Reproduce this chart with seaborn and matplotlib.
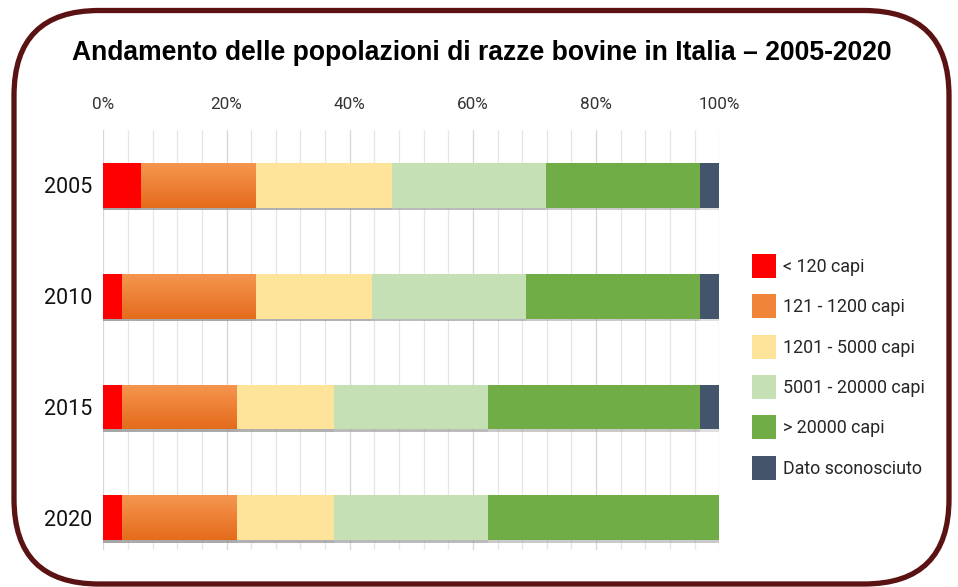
import numpy as np
import pandas as pd
import matplotlib
matplotlib.use("Agg")
import matplotlib.pyplot as plt
import seaborn as sns
from matplotlib.patches import Patch, FancyBboxPatch
from matplotlib import patheffects as pe

# ---- data (percent shares per year) ----
years = ["2005", "2010", "2015", "2020"]
categories = ["< 120 capi", "121 - 1200 capi", "1201 - 5000 capi",
              "5001 - 20000 capi", "> 20000 capi", "Dato sconosciuto"]
share_lt120 = [6.1, 3.0, 3.0, 3.0]
share_121_1200 = [18.7, 21.8, 18.7, 18.7]
share_1201_5000 = [22.0, 18.9, 15.7, 15.7]
share_5001_20000 = [25.0, 25.0, 25.0, 25.0]
share_gt20000 = [25.1, 28.2, 34.5, 37.6]
share_unknown = [3.1, 3.1, 3.1, 0.0]
colors = ["#ff0000", "#f0853a", "#fde49a", "#c5e0b4", "#70ad47", "#44546a"]
xticks = [0, 20, 40, 60, 80, 100]
title = "Andamento delle popolazioni di razze bovine in Italia – 2005-2020"

series = [share_lt120, share_121_1200, share_1201_5000,
          share_5001_20000, share_gt20000, share_unknown]
cum = np.cumsum(np.array(series), axis=0)
df = pd.DataFrame({"year": years})
for i, c in enumerate(categories):
    df[c] = cum[i]

sns.set_theme(style="white")
plt.rcParams["font.family"] = ["Roboto", "DejaVu Sans"]

W, H = 958, 587
fig = plt.figure(figsize=(W / 100, H / 100), dpi=100)
fig.patch.set_facecolor("white")

# background overlay for rounded border
bg = fig.add_axes([0, 0, 1, 1])
bg.set_xlim(0, W)
bg.set_ylim(H, 0)
bg.axis("off")
bg.add_patch(FancyBboxPatch((14, 10.5), 935, 573.5,
                            boxstyle="round,pad=0,rounding_size=85",
                            facecolor="white", edgecolor="#5a1212",
                            linewidth=3.8))

ax = fig.add_axes([103.3 / W, 1 - 550 / H, 616 / W, 420 / H])
ax.set_facecolor("none")

shadow = [pe.SimplePatchShadow(offset=(0, -1.8), shadow_rgbFace="#9a9a9a", alpha=0.3),
          pe.Normal()]

for i in range(len(categories) - 1, -1, -1):
    n_before = len(ax.patches)
    sns.barplot(data=df, x=categories[i], y="year", orient="h",
                color=colors[i], width=0.405, linewidth=0,
                saturation=1, ax=ax, zorder=3 + (len(categories) - i) * 0.1)
    for p in ax.patches[n_before:]:
        p.set_path_effects(shadow)
        if i == 1:
            # subtle vertical gradient on the orange segment
            bb = p.get_bbox()
            grad = np.linspace(0, 1, 64).reshape(-1, 1)
            top = np.array(matplotlib.colors.to_rgb("#f5964f"))
            bot = np.array(matplotlib.colors.to_rgb("#e56b1c"))
            img = top + (bot - top) * grad[..., None]
            img = np.repeat(img, 2, axis=1)
            im = ax.imshow(img, extent=[bb.x0, bb.x1, bb.y1, bb.y0],
                           aspect="auto", zorder=p.get_zorder() + 0.01,
                           interpolation="bilinear")
            im.set_clip_path(p)

ax.set_xlim(0, 100)
ax.set_ylim(3.29, -0.5)

# grid
minor = np.arange(0, 101, 4)
for v in minor:
    ax.axvline(v, color="#e6e6e6" if v % 20 else "#d6d6d6", lw=0.9, zorder=0)

ax.xaxis.tick_top()
ax.set_xticks(xticks)
ax.set_xticklabels([f"{v}%" for v in xticks], fontsize=12.3, color="#333333")
ax.tick_params(axis="x", length=0, pad=13)
ax.tick_params(axis="y", length=0, pad=8, labelsize=15.5, labelcolor="#111111")
ax.set_xlabel("")
ax.set_ylabel("")
for s in ax.spines.values():
    s.set_visible(False)

fig.text(482 / W, 1 - 53 / H, title, ha="center", va="center",
         fontsize=19.1, fontweight="bold", family=["Liberation Sans", "DejaVu Sans"],
         color="black")

handles = [Patch(facecolor=c, edgecolor="none") for c in colors]
fig.legend(handles, categories, loc="upper left",
           bbox_to_anchor=(751.5 / W, 1 - 254 / H), frameon=False,
           fontsize=12.9, handlelength=1.39, handleheight=1.68,
           handletextpad=0.36, labelspacing=0.915, borderpad=0,
           borderaxespad=0)

fig.savefig("out.png", dpi=100, facecolor="white")
